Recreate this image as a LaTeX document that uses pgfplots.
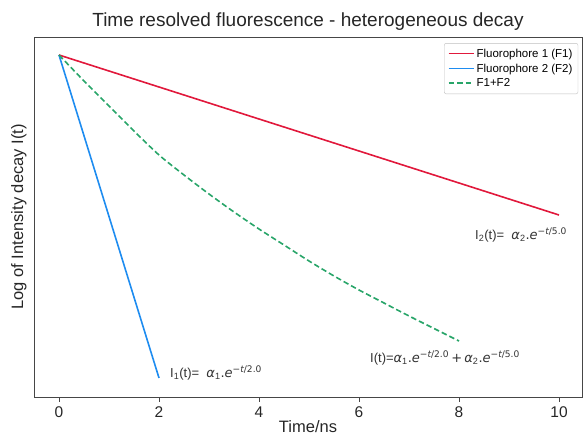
\documentclass[border=0pt]{standalone}
\usepackage{pgfplots}
\pgfplotsset{compat=1.18}
\usepackage{fontspec}
\setmainfont{Liberation Sans}
\setsansfont{Liberation Sans}
\newfontfamily\dv{DejaVu Sans}
\newcommand{\mi}[1]{{\dv\itshape #1}}
\newcommand{\mup}[1]{{\dv #1}}
\definecolor{fone}{RGB}{225,25,60}
\definecolor{ftwo}{RGB}{30,140,240}
\definecolor{fsum}{RGB}{40,165,105}
\definecolor{spine}{RGB}{70,70,70}
\begin{document}
\begin{tikzpicture}
\path[use as bounding box] (-34pt,-38pt) rectangle (550pt,397pt);
\begin{axis}[
  at={(0pt,0pt)}, anchor=south west,
  scale only axis,
  width=548pt, height=360pt,
  xmin=-0.5, xmax=10.46,
  ymin=-342, ymax=18,
  xtick={0,2,4,6,8,10},
  ytick=\empty,
  tick align=outside,
  xtick pos=bottom,
  major tick length=5pt,
  axis line style={spine, line width=0.9pt},
  every tick/.style={spine, line width=0.9pt},
  tick label style={font=\fontsize{15.5}{17}\selectfont, text=black!85},
  xticklabel style={yshift=-1pt},
  /pgf/number format/assume math mode=true,
  xlabel={Time/ns},
  ylabel={Log of Intensity decay I(t)},
  label style={font=\fontsize{16.5}{19}\selectfont, text=black!85},
  xlabel style={at={(axis description cs:0.5,0)}, anchor=center, yshift=-30pt},
  ylabel style={at={(axis description cs:0,0.5)}, anchor=south, rotate=0, yshift=4pt},
  title={Time resolved fluorescence - heterogeneous decay},
  title style={font=\fontsize{19}{22}\selectfont, text=black!85,
    at={(axis description cs:0.5,1)}, anchor=center, yshift=9pt},
  legend style={at={(0.993,0.983)}, anchor=north east, font=\fontsize{11.5}{13}\selectfont,
    draw=black!25, rounded corners=2pt, row sep=1.2pt, inner sep=3.5pt},
  legend cell align=left,
  legend image code/.code={\draw[#1, line width=1.8pt] (0pt,0.3pt) -- (25pt,0.3pt);},
]
\addplot[fone, line width=1.6pt] coordinates {(0,0) (10,-160)};
\addlegendentry{Fluorophore 1 (F1)}
\addplot[ftwo, line width=1.6pt] coordinates {(0,0) (2,-323)};
\addlegendentry{Fluorophore 2 (F2)}
\addplot[fsum, line width=1.6pt, dash pattern=on 5.5pt off 3pt, smooth] coordinates {
  (0,0) (0.5,-26) (1,-51) (1.5,-76) (2,-100) (2.5,-120) (3,-139) (3.5,-157)
  (4,-174) (4.5,-190) (5,-206) (5.5,-221) (6,-235) (6.5,-248) (7,-261)
  (7.5,-273.5) (8,-286)};
\addlegendentry{F1+F2}
\node[anchor=west, font=\fontsize{13}{15}\selectfont, text=black!80, inner sep=0pt]
  at (axis cs:2.22,-318) {I\textsubscript{1}(t)= \ \mi{α}\textsubscript{1}\mup{.}\mi{e}\textsuperscript{\mup{−}\mi{t}\mup{/2.0}}};
\node[anchor=west, font=\fontsize{13}{15}\selectfont, text=black!80, inner sep=0pt]
  at (axis cs:8.32,-180) {I\textsubscript{2}(t)= \ \mi{α}\textsubscript{2}\mup{.}\mi{e}\textsuperscript{\mup{−}\mi{t}\mup{/5.0}}};
\node[anchor=west, font=\fontsize{13}{15}\selectfont, text=black!80, inner sep=0pt]
  at (axis cs:6.22,-303) {I(t)=\mi{α}\textsubscript{1}\mup{.}\mi{e}\textsuperscript{\mup{−}\mi{t}\mup{/2.0}}\,\mup{+}\,\mi{α}\textsubscript{2}\mup{.}\mi{e}\textsuperscript{\mup{−}\mi{t}\mup{/5.0}}};
\end{axis}
\end{tikzpicture}
\end{document}
